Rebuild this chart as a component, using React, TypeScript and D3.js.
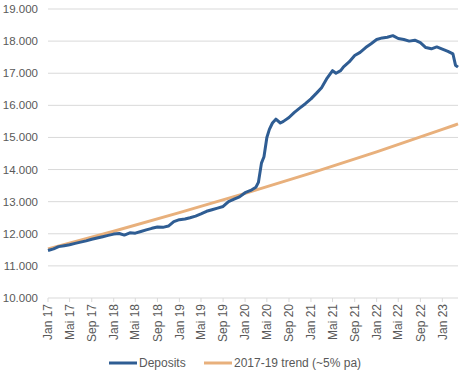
import React from 'react'
import * as d3 from 'd3'

// deposits (tn)
const depositDates = [
  '2017-01-01', '2017-02-01', '2017-03-01', '2017-04-01', '2017-05-01', '2017-06-01',
  '2017-07-01', '2017-08-01', '2017-09-01', '2017-10-01', '2017-11-01', '2017-12-01',
  '2018-01-01', '2018-02-01', '2018-03-01', '2018-04-01', '2018-05-01', '2018-06-01',
  '2018-07-01', '2018-08-01', '2018-09-01', '2018-10-01', '2018-11-01', '2018-12-01',
  '2019-01-01', '2019-02-01', '2019-03-01', '2019-04-01', '2019-05-01', '2019-06-01',
  '2019-07-01', '2019-08-01', '2019-09-01', '2019-10-01', '2019-11-01', '2019-12-01',
  '2020-01-01', '2020-02-01', '2020-03-01', '2020-03-15', '2020-04-01', '2020-04-15',
  '2020-05-01', '2020-05-15', '2020-06-01', '2020-06-20', '2020-07-15', '2020-08-01',
  '2020-09-01', '2020-10-01', '2020-11-01', '2020-12-01', '2021-01-01', '2021-02-01',
  '2021-03-01', '2021-04-01', '2021-05-01', '2021-05-20', '2021-06-15', '2021-07-01',
  '2021-08-01', '2021-09-01', '2021-10-01', '2021-11-01', '2021-12-01', '2022-01-01',
  '2022-02-01', '2022-03-01', '2022-04-01', '2022-05-01', '2022-06-01', '2022-07-01',
  '2022-08-01', '2022-09-01', '2022-10-01', '2022-11-01', '2022-12-01', '2023-01-01',
  '2023-02-01', '2023-03-01', '2023-03-15', '2023-03-29'
]
const depositValues = [
  11.48, 11.53, 11.6, 11.63, 11.66, 11.7,
  11.74, 11.78, 11.83, 11.87, 11.91, 11.95,
  11.99, 12.01, 11.96, 12.03, 12.02, 12.07,
  12.12, 12.17, 12.21, 12.2, 12.24, 12.38,
  12.44, 12.46, 12.5, 12.55, 12.62, 12.7,
  12.75, 12.8, 12.85, 13.0, 13.08, 13.15,
  13.28, 13.35, 13.45, 13.6, 14.2, 14.4,
  15.0, 15.25, 15.45, 15.57, 15.45, 15.5,
  15.62, 15.78, 15.92, 16.05, 16.2, 16.38,
  16.55, 16.85, 17.08, 17.0, 17.08, 17.2,
  17.35, 17.55, 17.65, 17.8, 17.92, 18.05,
  18.1, 18.12, 18.17, 18.08, 18.05, 18.0,
  18.03, 17.95, 17.8, 17.76, 17.82, 17.75,
  17.68, 17.6, 17.25, 17.19
]

// 2017-19 trend line
const trendDates = ['2017-01-01', '2018-01-01', '2019-01-01', '2020-01-01', '2021-01-01', '2022-01-01', '2023-01-01', '2023-03-29']
const trendValues = [11.53, 12.08, 12.66, 13.26, 13.89, 14.55, 15.25, 15.42]

const xTickLabels = [
  'Jan 17', 'Mai 17', 'Sep 17', 'Jan 18', 'Mai 18', 'Sep 18', 'Jan 19', 'Mai 19', 'Sep 19',
  'Jan 20', 'Mai 20', 'Sep 20', 'Jan 21', 'Mai 21', 'Sep 21', 'Jan 22', 'Mai 22', 'Sep 22', 'Jan 23'
]
const yTicks = [10, 11, 12, 13, 14, 15, 16, 17, 18, 19]
const seriesNames = ['Deposits', '2017-19 trend (~5% pa)']

const W = 463
const H = 373
const left = 48
const right = 458
const top = 9
const bottom = 298
const blue = '#2f5d93'
const orange = '#e8b07c'
const grey = '#595959'
const font = '"Liberation Sans", Arial, sans-serif'

export default function App() {
  const parse = d3.timeParse('%Y-%m-%d')
  const x = d3.scaleTime()
    .domain([parse('2017-01-01')!, parse('2023-03-29')!])
    .range([left, right])
  const y = d3.scaleLinear().domain([10, 19]).range([bottom, top])

  const deposits = depositDates.map((d, i) => ({ date: parse(d)!, value: depositValues[i] }))
  const trend = trendDates.map((d, i) => ({ date: parse(d)!, value: trendValues[i] }))

  const line = d3.line<{ date: Date; value: number }>()
    .x(d => x(d.date))
    .y(d => y(d.value))
  const trendLine = d3.line<{ date: Date; value: number }>()
    .x(d => x(d.date))
    .y(d => y(d.value))
    .curve(d3.curveMonotoneX)

  const tickDates = d3.timeMonth.every(4)!.range(parse('2017-01-01')!, parse('2023-02-01')!)
  const fmt = d3.format('.3f')

  return (
    <svg width={W} height={H} style={{ position: 'absolute', left: 0, top: 0, fontFamily: font }}>
      <rect width={W} height={H} fill="#fff" />
      {/* grid + y labels */}
      {yTicks.map(t => (
        <g key={t}>
          <line x1={left} x2={right} y1={y(t)} y2={y(t)} stroke="#d9d9d9" strokeWidth={1} />
          <text x={38} y={y(t)} dy="0.35em" textAnchor="end" fontSize={11.5} fill={grey}>{fmt(t)}</text>
        </g>
      ))}
      {/* x ticks */}
      {tickDates.map((d, i) => (
        <g key={i} transform={`translate(${x(d)},${bottom})`}>
          <line y1={0} y2={4} stroke="#d9d9d9" />
          <text transform="rotate(-90)" x={-6} dy="0.35em" textAnchor="end" fontSize={12} fill={grey}>
            {xTickLabels[i]}
          </text>
        </g>
      ))}
      <path d={trendLine(trend)!} fill="none" stroke={orange} strokeWidth={3} />
      <path d={line(deposits)!} fill="none" stroke={blue} strokeWidth={3} strokeLinejoin="round" />
      {/* legend */}
      <g transform="translate(0,363)">
        <line x1={109} x2={137} stroke={blue} strokeWidth={3} />
        <text x={139} dy="0.35em" fontSize={12} fill={grey}>{seriesNames[0]}</text>
        <line x1={204} x2={232} stroke={orange} strokeWidth={3} />
        <text x={234} dy="0.35em" fontSize={12} fill={grey}>{seriesNames[1]}</text>
      </g>
    </svg>
  )
}
